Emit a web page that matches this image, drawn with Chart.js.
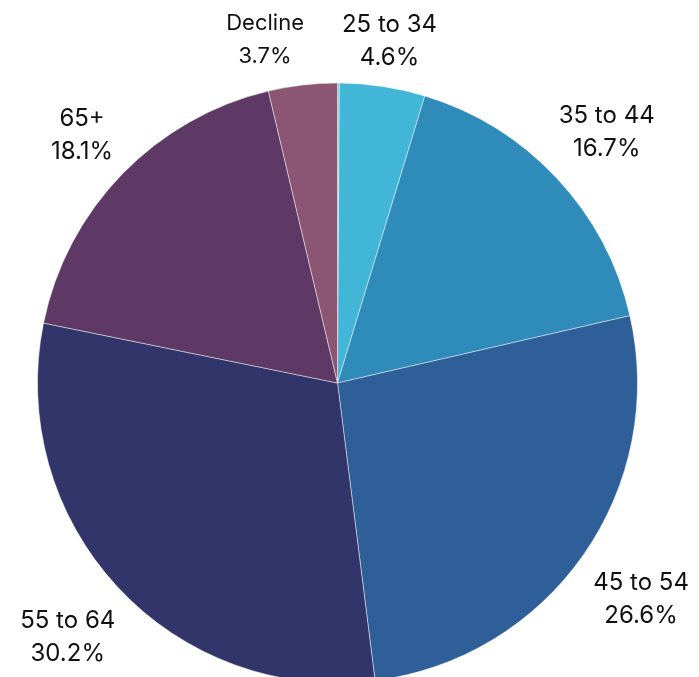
<!DOCTYPE html>
<html>
<head>
<meta charset="utf-8">
<script src="https://cdn.jsdelivr.net/npm/chart.js@4/dist/chart.umd.min.js"></script>
<style>
html,body{margin:0;padding:0;background:#fff;overflow:hidden;width:699px;height:677px;}
#wrap{width:699px;height:760px;}
</style>
</head>
<body>
<div id="wrap"><canvas id="c" width="699" height="760"></canvas></div>
<script>
const categories = ["Under 25", "25 to 34", "35 to 44", "45 to 54", "55 to 64", "65+", "Decline"];
const shares = [0.1, 4.6, 16.7, 26.6, 30.2, 18.1, 3.7];
const shownLabels = [false, true, true, true, true, true, true];
const colors = ["#5fd6df", "#41b6d6", "#2e8bba", "#2f5f98", "#32356a", "#5e3966", "#8b5573"];

const labelPlugin = {
  id: 'outsideLabels',
  afterDraw(chart) {
    const ctx = chart.ctx;
    const meta = chart.getDatasetMeta(0);
    const boxes = [];
    meta.data.forEach((arc, i) => {
      if (!shownLabels[i]) return;
      const p = arc.getProps(['x','y','startAngle','endAngle','outerRadius'], true);
      const mid = (p.startAngle + p.endAngle) / 2;
      const size = shares[i] < 4 ? 22 : 24;
      ctx.font = size + 'px Inter, "Open Sans", sans-serif';
      const l1 = categories[i];
      const l2 = shares[i].toFixed(1) + '%';
      const w = Math.max(ctx.measureText(l1).width, ctx.measureText(l2).width) / 2;
      const h = size * 0.8;
      const d = p.outerRadius + 20 + Math.abs(Math.cos(mid)) * w + Math.abs(Math.sin(mid)) * h;
      const low = Math.sin(mid) > 0 ? 4 : 0;
      boxes.push({i, x: p.x + Math.cos(mid) * d, y: p.y + Math.sin(mid) * d + low, w, h, size, l1, l2});
    });
    for (let a = 0; a < boxes.length; a++) {
      for (let b = 0; b < boxes.length; b++) {
        if (a === b) continue;
        const A = boxes[a], B = boxes[b];
        if (Math.abs(A.y - B.y) < A.h + B.h) {
          const overlap = (A.w + B.w + 38) - Math.abs(A.x - B.x);
          if (overlap > 0 && A.x < B.x && shares[A.i] < shares[B.i]) { A.x -= overlap; A.y = B.y - 1; }
        }
      }
    }
    ctx.save();
    ctx.fillStyle = '#111';
    ctx.textAlign = 'center';
    ctx.textBaseline = 'middle';
    boxes.forEach(b => {
      ctx.font = b.size + 'px Inter, "Open Sans", sans-serif';
      const lh = 33;
      ctx.fillText(b.l1, b.x, b.y - lh / 2);
      ctx.fillText(b.l2, b.x, b.y + lh / 2);
    });
    ctx.restore();
  }
};

new Chart(document.getElementById('c'), {
  type: 'pie',
  data: {
    labels: categories,
    datasets: [{
      data: shares,
      backgroundColor: colors,
      borderColor: 'rgba(255,255,255,0.45)',
      borderWidth: 1
    }]
  },
  options: {
    responsive: false,
    animation: false,
    layout: { padding: { left: 37, right: 61, top: 82, bottom: 76 } },
    plugins: { legend: { display: false }, tooltip: { enabled: false } }
  },
  plugins: [labelPlugin]
});
</script>
</body>
</html>
